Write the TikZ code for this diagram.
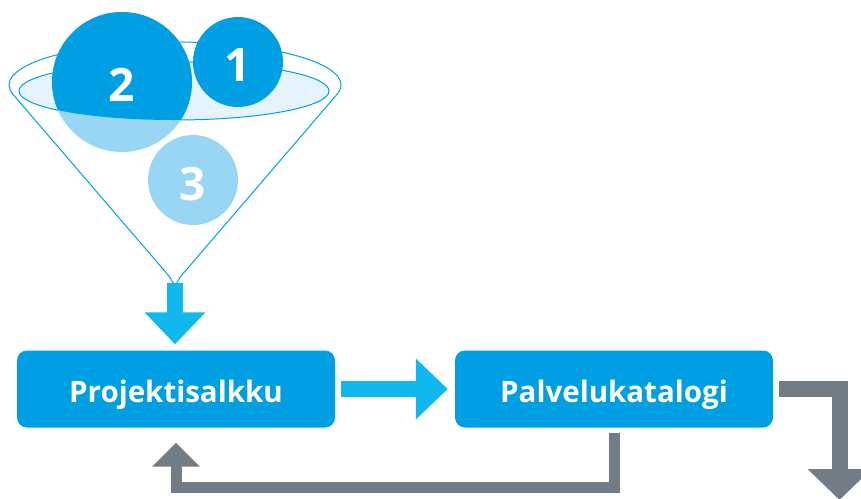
\documentclass[tikz,border=0pt]{standalone}
\usepackage{fontspec}
\setmainfont{Open Sans}
\usetikzlibrary{arrows.meta}
\pgfdeclarelayer{edgelayer}
\pgfdeclarelayer{nodelayer}
\pgfsetlayers{edgelayer,nodelayer,main}
\definecolor{portblue}{RGB}{0,159,227}
\definecolor{paleblue}{RGB}{153,214,243}
\definecolor{rimblue}{RGB}{229,244,252}
\definecolor{flowcyan}{RGB}{17,184,237}
\definecolor{loopgrey}{RGB}{115,123,133}
\tikzstyle{none} = []
\tikzstyle{block} = [rectangle, rounded corners=10pt, fill=portblue, text=white, font=\fontsize{29.5}{32}\selectfont\bfseries, minimum width=318pt, minimum height=77pt, text height=26.4pt, text depth=0pt]
\tikzstyle{digit} = [text=white, font=\fontsize{46}{50}\selectfont\bfseries, inner sep=0pt]
\tikzstyle{funnel line} = [draw=portblue, line width=1pt]
\tikzstyle{flow edge} = [draw=flowcyan, line width=16pt, -{Triangle[width=59pt, length=32pt]}]
\tikzstyle{loop edge} = [draw=loopgrey, line width=11pt, -{Triangle[width=46pt, length=24pt]}]
\tikzstyle{out edge} = [draw=loopgrey, line width=16pt, -{Triangle[width=62pt, length=31pt]}]

\begin{document}
\begin{tikzpicture}[x=1pt, y=1pt]
	\useasboundingbox (0, 0) rectangle (861, -498);
	\begin{pgfonlayer}{nodelayer}
		\node [style=block] (0) at (176, -389) {Projektisalkku};
		\node [style=block] (1) at (614, -389) {Palvelukatalogi};
		\node [style=digit] (2) at (238, -65) {1};
		\node [style=digit] (3) at (122, -85) {2};
		\node [style=digit] (4) at (193, -184.5) {3};
		\node [style=none] (5) at (175, -283) {};
		\coordinate (6) at (839.5, -500);
	\end{pgfonlayer}
	\begin{pgfonlayer}{edgelayer}
		\draw [style=funnel line] (12.97, -94.34) -- (170, -277.2) .. controls (175, -287) .. (180, -277.2) -- (337.03, -94.34) arc [start angle=-12.55, end angle=192.55, x radius=166, y radius=43] -- cycle;
		\draw [style=funnel line, fill=rimblue] (174, -91) ellipse [x radius=155, y radius=29];
		\fill [paleblue] (193, -180) circle [radius=45];
		\fill [paleblue] (122, -82) circle [radius=70];
		\begin{scope}
			\clip (0, -91) -- (0, 0) -- (350, 0) -- (350, -91) -- (329, -91) arc [start angle=0, end angle=-180, x radius=155, y radius=29] -- cycle;
			\fill [portblue] (122, -82) circle [radius=70];
		\end{scope}
		\fill [portblue] (238, -62) circle [radius=45];
		\draw [style=flow edge, shorten >=6pt] (5.center) to (5.center |- 0.north);
		\draw [style=flow edge, shorten <=6pt, shorten >=7pt] (0.east) to (1.west);
		\draw [style=loop edge, shorten <=5pt, shorten >=15pt] (1.south) -- ++(0, -60) -| (0.south);
		\draw [style=out edge, shorten <=6pt] (1.east) -| (6);
	\end{pgfonlayer}
\end{tikzpicture}
\end{document}
